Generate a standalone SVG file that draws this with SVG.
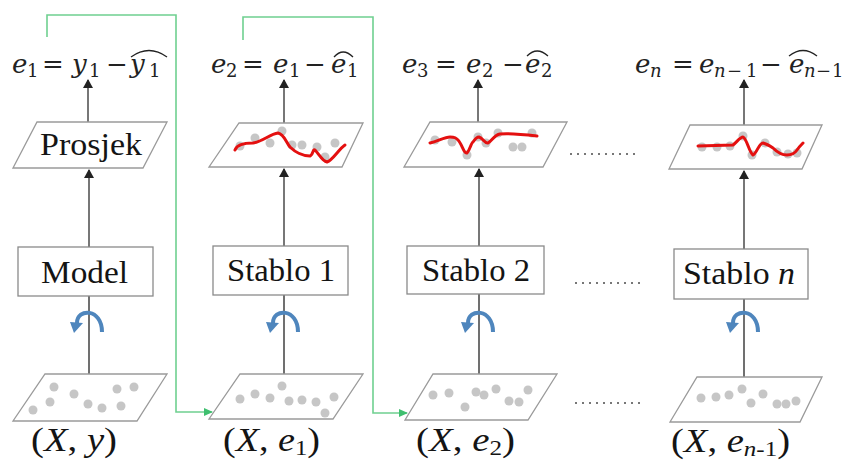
<svg xmlns="http://www.w3.org/2000/svg" width="844" height="464" viewBox="0 0 844 464">
<style>
.bg{fill:#fff}
.par{fill:#fff;stroke:#9a9a9a;stroke-width:1.3}
.box{fill:#fff;stroke:#8a8a8a;stroke-width:1.3}
.lbl{font-family:"Liberation Serif","Times New Roman",serif;font-size:32px;fill:#141414}
.blab{font-family:"Liberation Serif","Times New Roman",serif;font-size:34px;fill:#141414}
.m{font-family:"DejaVu Serif",serif;font-size:26px;fill:#222}
.mi{font-style:italic}
.ms{font-family:"DejaVu Serif",serif;font-size:18px;fill:#222}
.hat{fill:none;stroke:#222;stroke-width:1.3}
.up{stroke:#555;stroke-width:1.6;marker-end:url(#ah)}
.vl{stroke:#707070;stroke-width:2}
.grn{fill:none;stroke:#6fd090;stroke-width:1.6;marker-end:url(#ag)}
.dot{fill:#c6c6c6}
.red{fill:none;stroke:#e41010;stroke-width:3;stroke-linejoin:round;stroke-linecap:round}
.dl{stroke:#777;stroke-width:2.2;stroke-dasharray:2 5}
.barc{fill:none;stroke:#4f86bd;stroke-width:4}
.bhead{fill:#4f86bd}
</style>
<defs>
<marker id="ah" markerWidth="10" markerHeight="10" refX="8" refY="5" orient="auto" markerUnits="userSpaceOnUse"><path d="M0,0 L9,5 L0,10 Z" fill="#222"/></marker>
<marker id="ag" markerWidth="10" markerHeight="10" refX="8" refY="5" orient="auto" markerUnits="userSpaceOnUse"><path d="M0,1 L9,5 L0,9 Z" fill="#3fbf6f"/></marker>
<g id="blue"><path class="barc" d="M14 21 C14 -3 -11 -3 -11 12"/><polygon class="bhead" points="-18,11 -5,12 -14,22"/></g>
</defs>
<rect class="bg" width="844" height="464"/>

<g id="connectors">
<line class="up" x1="88" y1="122" x2="88" y2="80"/>
<line class="up" x1="89" y1="247" x2="89" y2="170"/>
<line class="vl" x1="89" y1="296" x2="89" y2="374"/>
<line class="up" x1="284" y1="123" x2="284" y2="80"/>
<line class="up" x1="284" y1="246" x2="284" y2="169"/>
<line class="vl" x1="284" y1="295" x2="284" y2="374"/>
<line class="up" x1="478" y1="122" x2="478" y2="80"/>
<line class="up" x1="479" y1="246" x2="479" y2="169"/>
<line class="vl" x1="479" y1="294" x2="479" y2="374"/>
<line class="up" x1="744" y1="125" x2="744" y2="80"/>
<line class="up" x1="744" y1="249" x2="744" y2="171"/>
<line class="vl" x1="744" y1="299" x2="744" y2="377"/>
<path class="grn" d="M47 37 V15 H176 V412 H212"/>
<path class="grn" d="M243 40 V17 H373 V413 H407"/>
<use href="#blue" x="88" y="311"/>
<use href="#blue" x="284" y="311"/>
<use href="#blue" x="479" y="311"/>
<use href="#blue" x="744" y="311"/>
<line class="dl" x1="570" y1="154" x2="640" y2="154"/>
<line class="dl" x1="575" y1="283" x2="645" y2="283"/>
<line class="dl" x1="575" y1="403" x2="643" y2="403"/>
</g>

<g id="formula1">
<text class="m mi" x="12" y="73">e</text><text class="ms" x="27" y="77">1</text>
<text class="m" x="42" y="73">=</text>
<text class="m mi" x="72" y="73">y</text><text class="ms" x="89" y="77">1</text>
<text class="m" x="106" y="73">−</text>
<text class="m mi" x="130" y="73">y</text><text class="ms" x="149" y="77">1</text>
<path class="hat" d="M131 57 Q149 44 167 57"/>
</g>
<g id="formula2">
<text class="m mi" x="211" y="73">e</text><text class="ms" x="226" y="77">2</text>
<text class="m" x="242" y="73">=</text>
<text class="m mi" x="273" y="73">e</text><text class="ms" x="289" y="77">1</text>
<text class="m" x="304" y="73">−</text>
<text class="m mi" x="331" y="73">e</text><text class="ms" x="347" y="77">1</text>
<path class="hat" d="M334 57 Q343 47 353 57"/>
</g>
<g id="formula3">
<text class="m mi" x="402" y="73">e</text><text class="ms" x="417" y="77">3</text>
<text class="m" x="435" y="73">=</text>
<text class="m mi" x="466" y="73">e</text><text class="ms" x="482" y="77">2</text>
<text class="m" x="502" y="73">−</text>
<text class="m mi" x="525" y="73">e</text><text class="ms" x="541" y="77">2</text>
<path class="hat" d="M527 56 Q537 46 548 56"/>
</g>
<g id="formula4">
<text class="m mi" x="635" y="73">e</text><text class="ms mi" x="650" y="77">n</text>
<text class="m" x="672" y="73">=</text>
<text class="m mi" x="699" y="73">e</text><text class="ms mi" x="714" y="77">n</text><text class="ms" x="727" y="77">−</text><text class="ms" x="746" y="77">1</text>
<text class="m" x="760" y="73">−</text>
<text class="m mi" x="789" y="73">e</text><text class="ms mi" x="804" y="77">n</text><text class="ms" x="816" y="77">−</text><text class="ms" x="832" y="77">1</text>
<path class="hat" d="M789 56 Q803 45 817 56"/>
</g>

<g id="prosjek">
<polygon class="par" points="37,122 167,122 143,168 13,168"/>
<text class="lbl" x="40" y="155" textLength="102" lengthAdjust="spacingAndGlyphs">Prosjek</text>
</g>
<g id="fit1">
<polygon class="par" points="239,123 363,123 342,167 209,167"/>
<circle class="dot" cx="240" cy="146" r="4.5"/><circle class="dot" cx="255" cy="138" r="4.5"/><circle class="dot" cx="270" cy="143" r="4.5"/><circle class="dot" cx="282" cy="131" r="4.5"/><circle class="dot" cx="292" cy="145" r="4.5"/><circle class="dot" cx="302" cy="145" r="4.5"/><circle class="dot" cx="317" cy="147" r="4.5"/><circle class="dot" cx="325" cy="157" r="4.5"/><circle class="dot" cx="335" cy="143" r="4.5"/>
<path class="red" d="M235 150 C237 144 245 143 253 143 C262 142 270 134 278 133 C284 134 286 142 290 147 C295 152 303 156 310 156 C313 155 313 148 315 150 C319 154 322 161 327 162 C333 160 338 150 345 145"/>
</g>
<g id="fit2">
<polygon class="par" points="430,122 567,122 543,167 404,167"/>
<circle class="dot" cx="435" cy="140" r="4.5"/><circle class="dot" cx="452" cy="142" r="4.5"/><circle class="dot" cx="467" cy="155" r="4.5"/><circle class="dot" cx="478" cy="137" r="4.5"/><circle class="dot" cx="486" cy="143" r="4.5"/><circle class="dot" cx="498" cy="133" r="4.5"/><circle class="dot" cx="513" cy="147" r="4.5"/><circle class="dot" cx="522" cy="147" r="4.5"/><circle class="dot" cx="532" cy="133" r="4.5"/>
<path class="red" d="M430 143 C438 141 445 137 450 137 C455 137 456 138 458 140 C462 144 464 154 467 153 C470 150 471 143 473 142 C475 139 477 137 479 137 C483 138 485 144 488 143 C492 141 494 135 500 134 C508 133 520 134 537 136"/>
</g>
<g id="fitn">
<polygon class="par" points="690,125 822,125 802,169 669,169"/>
<circle class="dot" cx="702" cy="147" r="4.5"/><circle class="dot" cx="717" cy="147" r="4.5"/><circle class="dot" cx="730" cy="146" r="4.5"/><circle class="dot" cx="743" cy="136" r="4.5"/><circle class="dot" cx="752" cy="155" r="4.5"/><circle class="dot" cx="765" cy="143" r="4.5"/><circle class="dot" cx="777" cy="152" r="4.5"/><circle class="dot" cx="788" cy="154" r="4.5"/><circle class="dot" cx="797" cy="153" r="4.5"/>
<path class="red" d="M698 146 L733 145 C737 142 740 137 743 137 C747 139 749 152 753 155 C757 153 759 143 763 143 C767 144 770 146 773 148 C777 152 782 155 787 155 C791 155 795 153 797 150 C799 147 801 145 803 143"/>
</g>

<g id="model">
<rect class="box" x="18" y="247" width="135" height="49"/>
<text class="lbl" x="41" y="283" textLength="87" lengthAdjust="spacingAndGlyphs">Model</text>
</g>
<g id="stablo1">
<rect class="box" x="213" y="246" width="135" height="49"/>
<text class="lbl" x="227" y="281" textLength="108" lengthAdjust="spacingAndGlyphs">Stablo 1</text>
</g>
<g id="stablo2">
<rect class="box" x="407" y="246" width="137" height="48"/>
<text class="lbl" x="422" y="281" textLength="108" lengthAdjust="spacingAndGlyphs">Stablo 2</text>
</g>
<g id="stablon">
<rect class="box" x="674" y="249" width="134" height="50"/>
<text class="lbl" x="683" y="284" textLength="112" lengthAdjust="spacingAndGlyphs">Stablo <tspan font-style="italic">n</tspan></text>
</g>

<g id="data0">
<polygon class="par" points="45,374 167,374 137,421 13,421"/>
<circle class="dot" cx="54" cy="387" r="4.5"/><circle class="dot" cx="134" cy="387" r="4.5"/><circle class="dot" cx="117" cy="389" r="4.5"/><circle class="dot" cx="74" cy="394" r="4.5"/><circle class="dot" cx="50" cy="402" r="4.5"/><circle class="dot" cx="88" cy="404" r="4.5"/><circle class="dot" cx="102" cy="408" r="4.5"/><circle class="dot" cx="121" cy="406" r="4.5"/><circle class="dot" cx="33" cy="410" r="4.5"/>
<text class="blab" x="31" y="451" textLength="86" lengthAdjust="spacingAndGlyphs">(<tspan font-style="italic">X</tspan>, <tspan font-style="italic">y</tspan>)</text>
</g>
<g id="data1">
<polygon class="par" points="240,374 363,374 333,419 209,419"/>
<circle class="dot" cx="240" cy="399" r="4.5"/><circle class="dot" cx="255" cy="394" r="4.5"/><circle class="dot" cx="270" cy="398" r="4.5"/><circle class="dot" cx="282" cy="386" r="4.5"/><circle class="dot" cx="289" cy="401" r="4.5"/><circle class="dot" cx="302" cy="400" r="4.5"/><circle class="dot" cx="316" cy="402" r="4.5"/><circle class="dot" cx="334" cy="397" r="4.5"/><circle class="dot" cx="325" cy="413" r="4.5"/>
<text class="blab" x="223" y="451" textLength="97" lengthAdjust="spacingAndGlyphs">(<tspan font-style="italic">X</tspan>, <tspan font-style="italic">e</tspan><tspan font-size="22" dy="4">1</tspan><tspan dy="-4">)</tspan></text>
</g>
<g id="data2">
<polygon class="par" points="433,374 557,374 528,420 405,420"/>
<circle class="dot" cx="433" cy="395" r="4.5"/><circle class="dot" cx="449" cy="393" r="4.5"/><circle class="dot" cx="465" cy="407" r="4.5"/><circle class="dot" cx="476" cy="392" r="4.5"/><circle class="dot" cx="484" cy="395" r="4.5"/><circle class="dot" cx="496" cy="389" r="4.5"/><circle class="dot" cx="509" cy="401" r="4.5"/><circle class="dot" cx="519" cy="402" r="4.5"/><circle class="dot" cx="528" cy="390" r="4.5"/>
<text class="blab" x="416" y="451" textLength="99" lengthAdjust="spacingAndGlyphs">(<tspan font-style="italic">X</tspan>, <tspan font-style="italic">e</tspan><tspan font-size="22" dy="4">2</tspan><tspan dy="-4">)</tspan></text>
</g>
<g id="datan">
<polygon class="par" points="697,377 822,377 800,422 670,422"/>
<circle class="dot" cx="701" cy="398" r="4.5"/><circle class="dot" cx="716" cy="397" r="4.5"/><circle class="dot" cx="729" cy="395" r="4.5"/><circle class="dot" cx="742" cy="389" r="4.5"/><circle class="dot" cx="751" cy="403" r="4.5"/><circle class="dot" cx="763" cy="394" r="4.5"/><circle class="dot" cx="777" cy="404" r="4.5"/><circle class="dot" cx="786" cy="404" r="4.5"/><circle class="dot" cx="796" cy="401" r="4.5"/>
<text class="blab" x="671" y="452" textLength="119" lengthAdjust="spacingAndGlyphs">(<tspan font-style="italic">X</tspan>, <tspan font-style="italic">e</tspan><tspan font-size="22" dy="4" font-style="italic">n</tspan><tspan font-size="22">-1</tspan><tspan dy="-4">)</tspan></text>
</g>
</svg>
